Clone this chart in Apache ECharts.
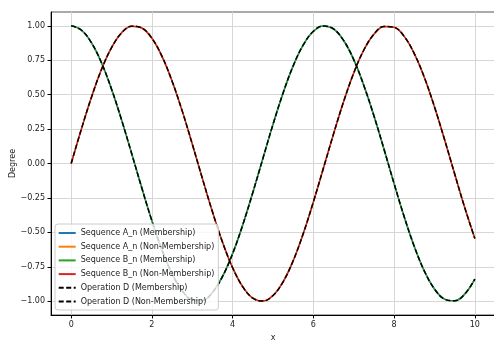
<!DOCTYPE html>
<html>
<head>
<meta charset="utf-8">
<script src="https://cdn.jsdelivr.net/npm/echarts@6/dist/echarts.min.js"></script>
<style>
  html, body { margin: 0; padding: 0; background: #fff; }
  #chart { width: 494px; height: 340px; }
</style>
</head>
<body>
<div id="chart"></div>
<script>
// Sample positions along x
const xs = [0, 0.25, 0.5, 0.75, 1, 1.25, 1.5, 1.75, 2, 2.25, 2.5, 2.75, 3, 3.25, 3.5, 3.75,
  4, 4.25, 4.5, 4.75, 5, 5.25, 5.5, 5.75, 6, 6.25, 6.5, 6.75, 7, 7.25, 7.5, 7.75,
  8, 8.25, 8.5, 8.75, 9, 9.25, 9.5, 9.75, 10];

// Membership degrees
const membership = [1.000, 0.969, 0.878, 0.732, 0.540, 0.315, 0.071, -0.178, -0.416, -0.628,
  -0.801, -0.924, -0.990, -0.994, -0.936, -0.820, -0.654, -0.446, -0.211, 0.037,
  0.284, 0.512, 0.709, 0.861, 0.960, 0.999, 0.977, 0.893, 0.754, 0.567,
  0.347, 0.104, -0.146, -0.386, -0.602, -0.781, -0.911, -0.985, -0.997, -0.948, -0.839];

// Non-membership degrees
const nonMembership = [0.000, 0.247, 0.479, 0.682, 0.841, 0.949, 0.997, 0.984, 0.909, 0.778,
  0.598, 0.382, 0.141, -0.108, -0.351, -0.572, -0.757, -0.895, -0.978, -0.999,
  -0.959, -0.859, -0.706, -0.508, -0.279, -0.033, 0.215, 0.450, 0.657, 0.824,
  0.938, 0.995, 0.989, 0.923, 0.798, 0.625, 0.412, 0.174, -0.075, -0.320, -0.544];

const xTicks = [0, 2, 4, 6, 8, 10];
const yTicks = [-1.0, -0.75, -0.5, -0.25, 0, 0.25, 0.5, 0.75, 1.0];

const seriesDefs = [
  { name: 'Sequence A_n (Membership)', values: membership, color: '#1f77b4', type: 'solid' },
  { name: 'Sequence A_n (Non-Membership)', values: nonMembership, color: '#ff7f0e', type: 'solid' },
  { name: 'Sequence B_n (Membership)', values: membership, color: '#2ca02c', type: 'solid' },
  { name: 'Sequence B_n (Non-Membership)', values: nonMembership, color: '#d62728', type: 'solid' },
  { name: 'Operation D (Membership)', values: membership, color: '#000000', type: [5, 2.5] },
  { name: 'Operation D (Non-Membership)', values: nonMembership, color: '#000000', type: [5, 2.5] }
];

const font = 'DejaVu Sans';
const fs = 8;
const fmtY = v => (v < 0 ? '\u2212' : '') + Math.abs(v).toFixed(2);

const chart = echarts.init(document.getElementById('chart'), null, { renderer: 'canvas' });
chart.setOption({
  animation: false,
  backgroundColor: '#fff',
  grid: {
    left: 51, top: 12, right: -1, bottom: 25,
    containLabel: false, outerBoundsMode: 'none',
    show: true, borderColor: '#555', borderWidth: 1, backgroundColor: 'transparent'
  },
  xAxis: {
    type: 'value', min: -0.5, max: 10.5,
    name: 'x', nameLocation: 'middle', nameGap: 19, nameMoveOverlap: false,
    nameTextStyle: { fontFamily: font, fontSize: fs, color: '#222' },
    axisLine: { show: true, onZero: false, lineStyle: { color: '#000', width: 1 } },
    axisTick: { show: true, length: 3.5, customValues: xTicks, lineStyle: { color: '#000' } },
    axisLabel: { customValues: xTicks, fontFamily: font, fontSize: fs, color: '#222', margin: 6 },
    splitLine: { show: true, lineStyle: { color: '#d6d6d6', width: 1 } }
  },
  yAxis: {
    type: 'value', min: -1.1, max: 1.1,
    name: 'Degree', nameLocation: 'middle', nameGap: 34, nameRotate: 90, nameMoveOverlap: false,
    nameTextStyle: { fontFamily: font, fontSize: fs, color: '#222' },
    axisLine: { show: true, onZero: false, lineStyle: { color: '#000', width: 1 } },
    axisTick: { show: true, length: 3.5, customValues: yTicks, lineStyle: { color: '#000' } },
    axisLabel: { customValues: yTicks, formatter: fmtY, fontFamily: font, fontSize: fs, color: '#222', margin: 6 },
    splitLine: { show: true, lineStyle: { color: '#d6d6d6', width: 1 } }
  },
  legend: {
    show: true,
    orient: 'vertical', left: 55, top: 224,
    itemWidth: 17, itemHeight: 8, itemGap: 5.7,
    padding: [5, 4, 4.5, 2.7],
    backgroundColor: 'rgba(255,255,255,0.8)',
    borderColor: '#cccccc', borderWidth: 1, borderRadius: 3,
    itemStyle: { opacity: 0 },
    textStyle: { fontFamily: font, fontSize: fs, color: '#222' },
    data: seriesDefs.map(s => s.name)
  },
  series: seriesDefs.map(s => ({
    name: s.name, type: 'line', showSymbol: false, symbol: 'none', smooth: 0.4,
    color: s.color,
    itemStyle: { color: s.color },
    lineStyle: { color: s.color, width: 1.5, type: s.type },
    data: xs.map((x, i) => [x, s.values[i]])
  }))
});
</script>
</body>
</html>
